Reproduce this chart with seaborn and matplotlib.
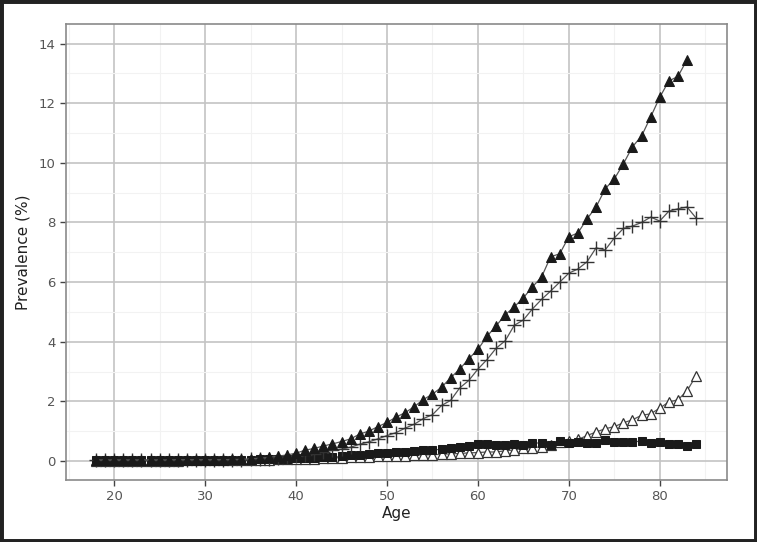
import numpy as np
import pandas as pd
import seaborn as sns
import matplotlib.pyplot as plt
from matplotlib.patches import Rectangle
from matplotlib.ticker import MultipleLocator

# Edades
ages = list(range(18, 85))

# Triángulos llenos (hasta 83 años)
filled_tri = [0.03, 0.03, 0.03, 0.03, 0.03, 0.03, 0.03, 0.03, 0.03, 0.04, 0.04, 0.04,
              0.04, 0.04, 0.04, 0.05, 0.05, 0.07, 0.09, 0.12, 0.16, 0.20, 0.26, 0.36,
              0.42, 0.50, 0.57, 0.65, 0.74, 0.90, 1.00, 1.15, 1.29, 1.47, 1.62, 1.82,
              2.06, 2.24, 2.47, 2.79, 3.08, 3.43, 3.74, 4.18, 4.53, 4.90, 5.17, 5.47,
              5.84, 6.17, 6.85, 6.95, 7.52, 7.65, 8.12, 8.52, 9.13, 9.46, 9.97, 10.54,
              10.90, 11.54, 12.20, 12.75, 12.90, 13.46, np.nan]

# Cruces
plus = [0.02, 0.02, 0.02, 0.02, 0.02, 0.02, 0.02, 0.02, 0.02, 0.03, 0.03, 0.03,
        0.03, 0.03, 0.03, 0.04, 0.04, 0.05, 0.06, 0.08, 0.10, 0.13, 0.17, 0.20,
        0.24, 0.30, 0.36, 0.40, 0.46, 0.56, 0.64, 0.74, 0.85, 0.95, 1.10, 1.23,
        1.42, 1.55, 1.86, 2.03, 2.45, 2.70, 3.08, 3.40, 3.78, 4.03, 4.55, 4.73,
        5.10, 5.42, 5.70, 6.00, 6.30, 6.44, 6.68, 7.15, 7.08, 7.48, 7.80, 7.88,
        8.00, 8.18, 8.05, 8.38, 8.46, 8.52, 8.15]

# Triángulos abiertos
open_tri = [0.01, 0.01, 0.01, 0.01, 0.01, 0.01, 0.01, 0.01, 0.01, 0.01, 0.02, 0.02,
            0.02, 0.02, 0.02, 0.02, 0.02, 0.03, 0.03, 0.04, 0.05, 0.05, 0.06, 0.07,
            0.08, 0.09, 0.10, 0.11, 0.12, 0.13, 0.14, 0.15, 0.16, 0.17, 0.18, 0.19,
            0.20, 0.21, 0.22, 0.24, 0.25, 0.27, 0.28, 0.30, 0.30, 0.34, 0.37, 0.42,
            0.44, 0.48, 0.55, 0.62, 0.68, 0.72, 0.85, 0.97, 1.08, 1.15, 1.28, 1.38,
            1.53, 1.58, 1.77, 1.98, 2.05, 2.35, 2.86]

# Cuadrados llenos
squares = [0.02, 0.02, 0.02, 0.02, 0.02, 0.02, 0.02, 0.02, 0.02, 0.03, 0.03, 0.03,
           0.03, 0.03, 0.03, 0.03, 0.04, 0.04, 0.05, 0.06, 0.07, 0.08, 0.10, 0.09,
           0.11, 0.12, 0.12, 0.15, 0.19, 0.20, 0.22, 0.26, 0.28, 0.31, 0.31, 0.34,
           0.37, 0.37, 0.39, 0.43, 0.48, 0.51, 0.57, 0.57, 0.54, 0.54, 0.57, 0.54,
           0.59, 0.61, 0.54, 0.68, 0.59, 0.65, 0.61, 0.60, 0.70, 0.65, 0.65, 0.62,
           0.68, 0.59, 0.65, 0.56, 0.56, 0.51, 0.57]

sns.set_style("white")

fig = plt.figure(figsize=(7.57, 5.42), dpi=100)
ax = fig.add_axes([0.0872, 0.1144, 0.8732, 0.8413])

# orden de dibujo: los triángulos llenos quedan encima
series = [
    (open_tri, dict(marker="^", markersize=7, markerfacecolor="white", markeredgecolor="#333333", markeredgewidth=0.9)),
    (squares, dict(marker="s", markersize=5.5, markerfacecolor="#1a1a1a", markeredgecolor="#1a1a1a")),
    (plus, dict(marker="+", markersize=9.5, markeredgewidth=1.0, markeredgecolor="#333333")),
    (filled_tri, dict(marker="^", markersize=6.5, markerfacecolor="#1a1a1a", markeredgecolor="#1a1a1a")),
]

for vals, kw in series:
    df = pd.DataFrame({"age": ages, "val": vals}).dropna()
    sns.lineplot(data=df, x="age", y="val", ax=ax, color="#555555", linewidth=0.9, **kw)

ax.set_xlim(14.7, 87.4)
ax.set_ylim(-0.64, 14.66)
ax.xaxis.set_major_locator(MultipleLocator(10))
ax.xaxis.set_minor_locator(MultipleLocator(5))
ax.yaxis.set_major_locator(MultipleLocator(2))
ax.yaxis.set_minor_locator(MultipleLocator(1))
ax.grid(which="major", color="#c4c4c4", linewidth=1.2)
ax.grid(which="minor", color="#f2f2f2", linewidth=0.8)
ax.set_axisbelow(True)

for s in ax.spines.values():
    s.set_color("#8a8a8a")
    s.set_linewidth(1.2)

ax.tick_params(axis="both", which="major", length=4, width=1, color="#444444",
               labelsize=9.5, labelcolor="#555555", left=True, bottom=True)
ax.tick_params(which="minor", length=0)

ax.set_xlabel("Age", fontsize=11, color="#222222", labelpad=2)
ax.set_ylabel("Prevalence (%)", fontsize=11, color="#222222", labelpad=6)

# marco exterior
fig.patches.append(Rectangle((0, 0), 1, 1, transform=fig.transFigure, fill=False,
                             edgecolor="#222222", linewidth=5))

fig.savefig("out.png", dpi=100)
